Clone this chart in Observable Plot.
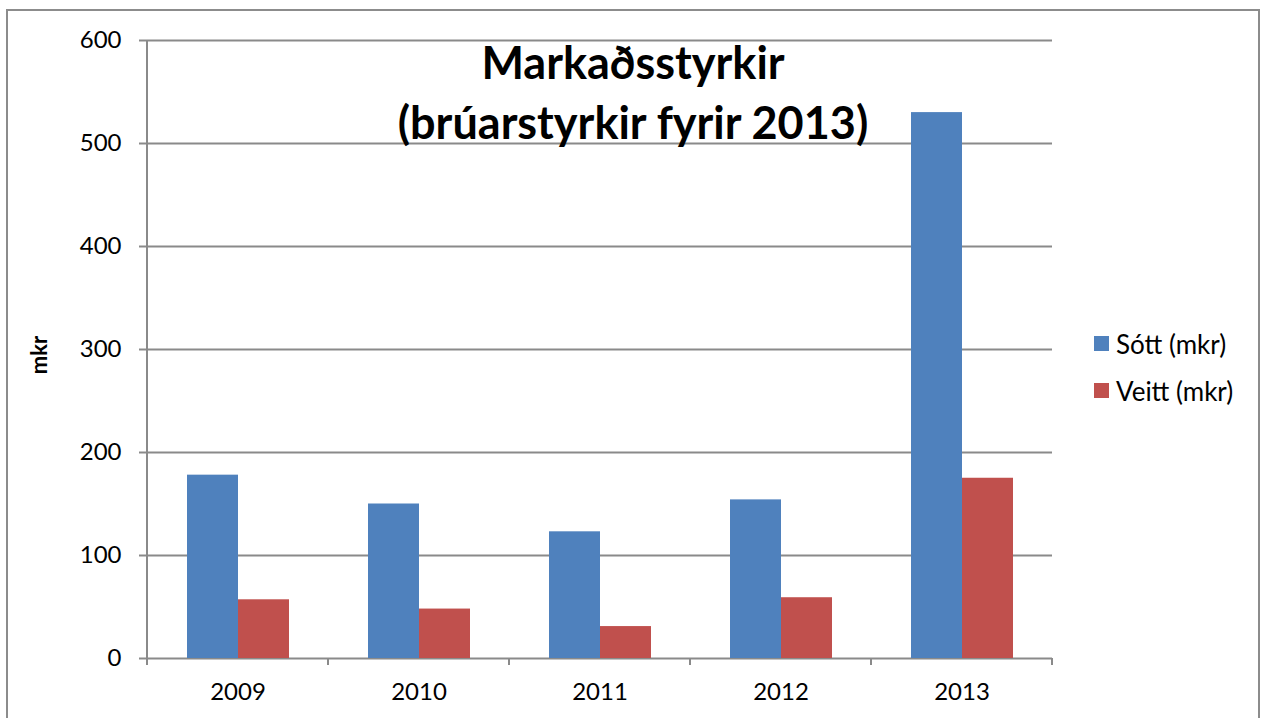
<!DOCTYPE html>
<html>
<head>
<meta charset="utf-8">
<script src="https://cdn.jsdelivr.net/npm/d3@7"></script>
<script src="https://cdn.jsdelivr.net/npm/@observablehq/plot@0.6"></script>
<style>
  body { margin: 0; background: #fff; }
  #wrap { position: relative; width: 1261px; height: 718px; overflow: hidden; font-family: Lato, "Open Sans", sans-serif; }
  #border { position: absolute; left: 6px; top: 9px; width: 1250px; height: 800px; border: 2px solid #8c8c8c; }
  #chart { position: absolute; left: 0; top: 0; }
  #title { position: absolute; left: 233px; width: 800px; top: 32px; text-align: center; font-weight: bold; font-size: 45px; line-height: 60px; color: #000; }
  #ylabel { position: absolute; left: 38px; top: 355px; transform: translate(-50%, -50%) rotate(-90deg); font-weight: bold; font-size: 22px; color: #000; }
  #legend { position: absolute; left: 1094px; top: 320px; font-size: 26px; color: #000; }
  .item { display: flex; align-items: center; height: 47px; }
  .sw { width: 15px; height: 15px; margin-right: 7px; }
</style>
</head>
<body>
<div id="wrap">
  <div id="border"></div>
  <div id="chart"></div>
  <div id="title">Markaðsstyrkir<br>(brúarstyrkir fyrir 2013)</div>
  <div id="ylabel">mkr</div>
  <div id="legend"></div>
</div>
<script>
const years = ["2009", "2010", "2011", "2012", "2013"];
const series = ["Sótt (mkr)", "Veitt (mkr)"];
const sott = [178, 150, 123, 154, 530];
const veitt = [57, 48, 31, 59, 175];
const colors = ["#4F81BD", "#C0504D"];
const yTicks = [0, 100, 200, 300, 400, 500, 600];

const data = years.flatMap((yr, i) => [
  {year: yr, series: series[0], value: sott[i]},
  {year: yr, series: series[1], value: veitt[i]}
]);

const grey = "#8a8a8a";

const plot = Plot.plot({
  width: 1261,
  height: 718,
  marginLeft: 146,
  marginRight: 209,
  marginTop: 40,
  marginBottom: 60,
  style: {fontFamily: "Lato, 'Open Sans', sans-serif", fontSize: "24px", color: "#000", background: "transparent", overflow: "visible"},
  fx: {domain: years, padding: 0, label: null},
  x: {domain: series, paddingInner: 0, paddingOuter: 0.75, axis: null},
  y: {domain: [0, 600], label: null},
  color: {domain: series, range: colors},
  marks: [
    Plot.ruleY(yTicks, {stroke: grey, strokeWidth: 2}),
    Plot.barY(data, {fx: "year", x: "series", y: "value", fill: "series"}),
    Plot.axisY(yTicks, {tickSize: 8, tickPadding: 18, stroke: grey, strokeWidth: 2, fill: "#000", fontSize: 24, label: null}),
    Plot.axisFx({anchor: "bottom", tickSize: 0, tickPadding: 24, fill: "#000", fontSize: 24, label: null})
  ]
});

document.getElementById("chart").appendChild(plot);

// Excel-style axis line and category boundary ticks, placed with the plot's own scales
const fx = plot.scale("fx");
const y = plot.scale("y");
const svg = d3.select(plot);
const y0 = y.apply(0), yTop = y.apply(600);
const bounds = years.map(v => fx.apply(v)).concat([fx.apply(years[years.length - 1]) + fx.bandwidth]);
const g = svg.append("g").attr("stroke", grey).attr("stroke-width", 2);
g.append("line").attr("x1", bounds[0]).attr("x2", bounds[0]).attr("y1", yTop).attr("y2", y0 + 7);
bounds.forEach(b => g.append("line").attr("x1", b).attr("x2", b).attr("y1", y0).attr("y2", y0 + 7));

// legend
const leg = d3.select("#legend");
series.forEach((s, i) => {
  const it = leg.append("div").attr("class", "item");
  it.append("div").attr("class", "sw").style("background", colors[i]);
  it.append("span").text(s);
});
</script>
</body>
</html>
